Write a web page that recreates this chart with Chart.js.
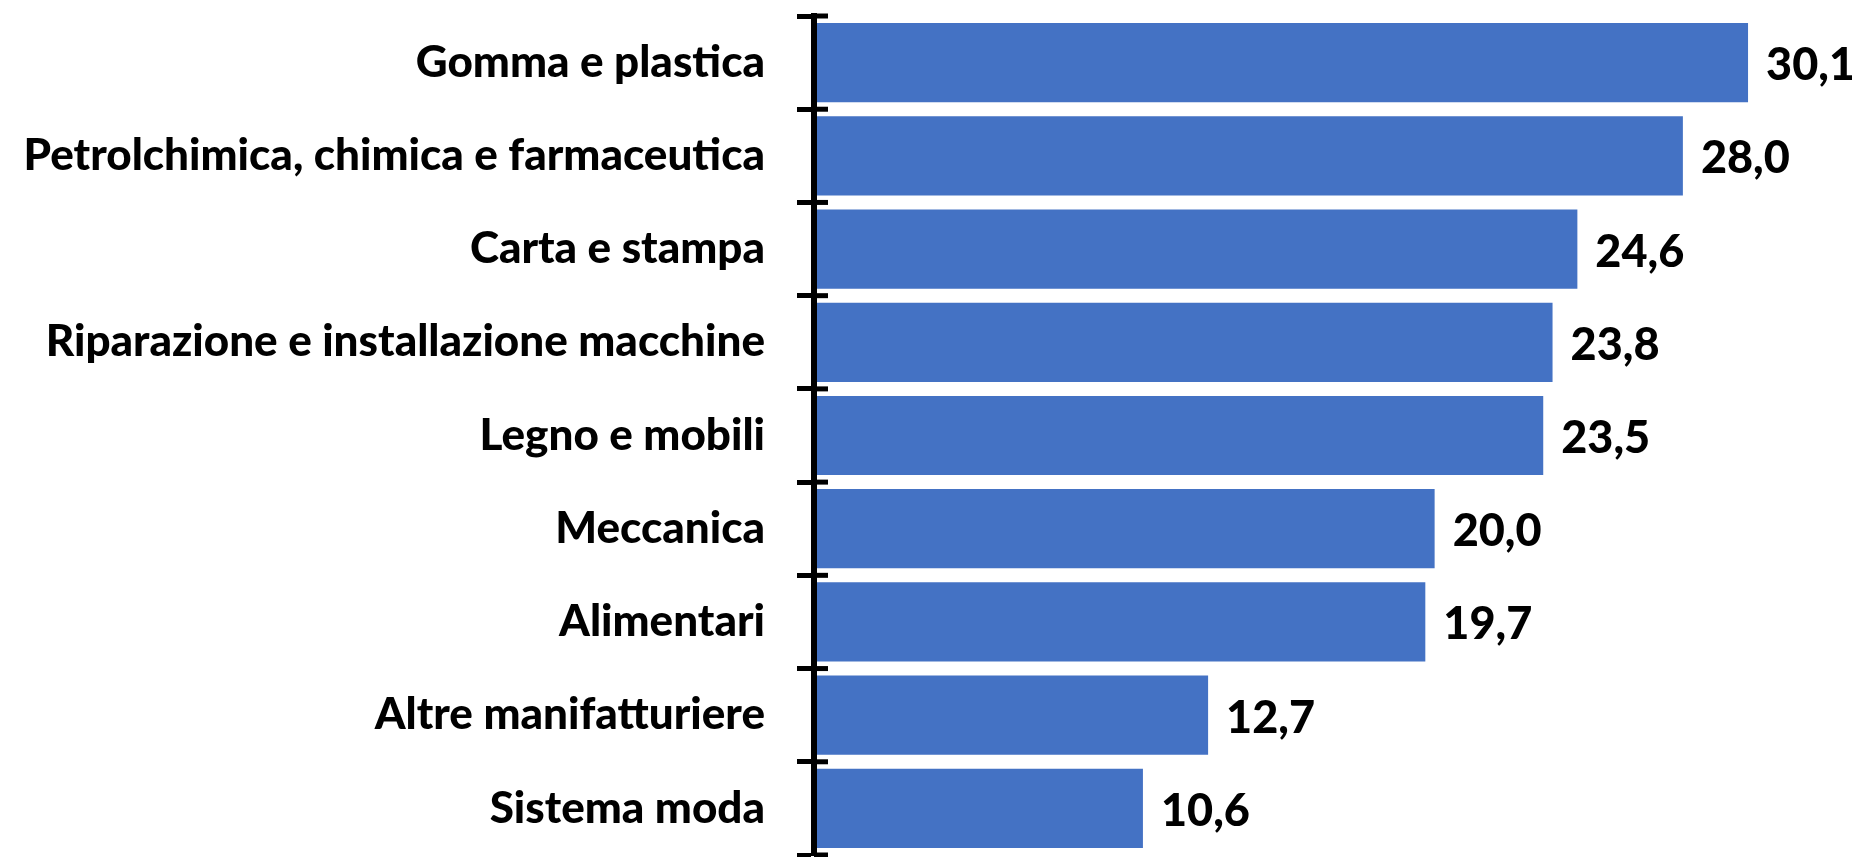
<!DOCTYPE html>
<html>
<head>
<meta charset="utf-8">
<script src="https://cdn.jsdelivr.net/npm/chart.js@4"></script>
<style>
  html, body { margin: 0; padding: 0; background: #fff; }
  #wrap { width: 1852px; height: 857px; position: relative; }
</style>
</head>
<body>
<div id="wrap"><canvas id="sectorChart"></canvas></div>
<script>
// Data
const categories = [
    'Gomma e plastica',
    'Petrolchimica, chimica e farmaceutica',
    'Carta e stampa',
    'Riparazione e installazione macchine',
    'Legno e mobili',
    'Meccanica',
    'Alimentari',
    'Altre manifatturiere',
    'Sistema moda'
];
const values = [30.1, 28.0, 24.6, 23.8, 23.5, 20.0, 19.7, 12.7, 10.6];

const FONT = 'Lato';
const BAR_COLOR = '#4472C4';

// Value labels at the end of each bar (Italian decimal comma)
const valueLabels = {
    id: 'valueLabels',
    afterDatasetsDraw(chart) {
        const ctx = chart.ctx;
        const meta = chart.getDatasetMeta(0);
        ctx.save();
        ctx.font = '900 45px ' + FONT;
        ctx.fillStyle = '#000';
        ctx.textAlign = 'left';
        ctx.textBaseline = 'middle';
        meta.data.forEach((bar, i) => {
            ctx.fillText(values[i].toFixed(1).replace('.', ','), bar.x + 18, bar.y + 3);
        });
        ctx.restore();
    }
};

// Tick marks on the y axis cross the axis line; Chart.js only draws the outer half
const innerTicks = {
    id: 'innerTicks',
    afterDraw(chart) {
        const ctx = chart.ctx;
        const y = chart.scales.y;
        const half = (y.getPixelForValue(1) - y.getPixelForValue(0)) / 2;
        ctx.save();
        ctx.strokeStyle = '#000';
        ctx.lineWidth = 5;
        for (let i = 0; i <= categories.length; i++) {
            const py = y.getPixelForValue(i) - half;
            ctx.beginPath();
            ctx.moveTo(chart.chartArea.left, py);
            ctx.lineTo(chart.chartArea.left + 14, py);
            ctx.stroke();
        }
        ctx.restore();
    }
};

document.addEventListener('DOMContentLoaded', function() {
    const ctx = document.getElementById('sectorChart').getContext('2d');
    new Chart(ctx, {
        type: 'bar',
        data: {
            labels: categories,
            datasets: [{
                data: values,
                backgroundColor: BAR_COLOR,
                borderWidth: 0,
                barPercentage: 0.85,
                categoryPercentage: 1.0
            }]
        },
        options: {
            indexAxis: 'y',
            responsive: true,
            maintainAspectRatio: false,
            animation: false,
            layout: {
                padding: { top: 16, bottom: 2, left: 0, right: 0 }
            },
            plugins: {
                legend: { display: false },
                tooltip: { enabled: false }
            },
            scales: {
                x: {
                    display: false,
                    min: 0,
                    max: 33.45
                },
                y: {
                    afterFit: function(scale) {
                        scale.width = 814;
                        scale.paddingTop = 0;
                        scale.paddingBottom = 0;
                    },
                    border: {
                        display: true,
                        color: '#000',
                        width: 6,
                        z: 1
                    },
                    grid: {
                        drawOnChartArea: false,
                        drawTicks: true,
                        tickLength: 17,
                        tickWidth: 5,
                        tickColor: '#000'
                    },
                    ticks: {
                        color: '#000',
                        padding: 32,
                        font: {
                            family: FONT,
                            size: 44,
                            weight: '900'
                        }
                    }
                }
            }
        },
        plugins: [valueLabels, innerTicks]
    });
});
</script>
</body>
</html>
